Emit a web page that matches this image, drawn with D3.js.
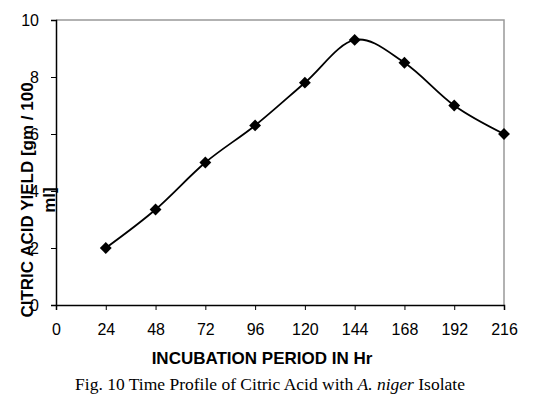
<!DOCTYPE html>
<html>
<head>
<meta charset="utf-8">
<script src="https://cdn.jsdelivr.net/npm/d3@7"></script>
<style>
  body { margin: 0; background: #fff; }
  svg { display: block; }
  .tick text { font-family: Arial, 'Liberation Sans', sans-serif; font-size: 16px; fill: #000; }
</style>
</head>
<body>
<svg id="chart" width="559" height="399"></svg>
<script>
// Incubation time (hours) and citric acid yield (gm / 100 ml)
const hours = [24, 48, 72, 96, 120, 144, 168, 192, 216];
const yieldValues = [2.0, 3.35, 5.0, 6.3, 7.8, 9.3, 8.5, 7.0, 6.0];
const xTicks = [0, 24, 48, 72, 96, 120, 144, 168, 192, 216];
const yTicks = [0, 2, 4, 6, 8, 10];

const svg = d3.select('#chart');
const plot = { left: 56, right: 504, top: 20, bottom: 305 };

const x = d3.scaleLinear().domain([0, 216]).range([plot.left, plot.right]);
const y = d3.scaleLinear().domain([0, 10]).range([plot.bottom, plot.top]);

// Plot area border (top/right grey)
svg.append('path')
    .attr('d', `M${plot.left},${plot.top}H${plot.right}V${plot.bottom}`)
    .attr('fill', 'none')
    .attr('stroke', '#999')
    .attr('stroke-width', 1.5);

// Axes
const xAxis = svg.append('g')
    .attr('transform', `translate(0,${plot.bottom})`)
    .call(d3.axisBottom(x).tickValues(xTicks).tickSize(5).tickPadding(14));
const yAxis = svg.append('g')
    .attr('transform', `translate(${plot.left},0)`)
    .call(d3.axisLeft(y).tickValues(yTicks).tickSize(5).tickPadding(12));

[xAxis, yAxis].forEach(a => {
    a.select('.domain').attr('stroke', '#000').attr('stroke-width', 1.5);
    a.selectAll('.tick line').attr('stroke', '#000');
});

// Smoothed line
const line = d3.line()
    .x((d, i) => x(hours[i]))
    .y(d => y(d))
    .curve(d3.curveCatmullRom.alpha(0));

svg.append('path')
    .datum(yieldValues)
    .attr('d', line)
    .attr('fill', 'none')
    .attr('stroke', '#000')
    .attr('stroke-width', 1.8);

// Diamond markers
const diamond = d3.symbol().type(d3.symbolSquare).size(70);
svg.append('g').selectAll('path')
    .data(yieldValues)
    .enter().append('path')
    .attr('d', diamond)
    .attr('transform', (d, i) => `translate(${x(hours[i])},${y(d)}) rotate(45)`)
    .attr('fill', '#000');

// Axis titles
svg.append('text')
    .attr('x', (plot.left + plot.right) / 2 - 18)
    .attr('y', 364)
    .attr('text-anchor', 'middle')
    .style('font-family', "Arial, 'Liberation Sans', sans-serif")
    .style('font-weight', 'bold')
    .style('font-size', '17px')
    .text('INCUBATION PERIOD IN Hr');

const yTitle = svg.append('text')
    .attr('transform', 'translate(33,200) rotate(-90)')
    .attr('text-anchor', 'middle')
    .style('font-family', "Arial, 'Liberation Sans', sans-serif")
    .style('font-weight', 'bold')
    .style('font-size', '17px');
yTitle.append('tspan').attr('x', 0).attr('y', 0).text('CITRIC ACID YIELD [gm / 100');
yTitle.append('tspan').attr('x', 0).attr('y', 22).text('ml]');

// Caption
const caption = svg.append('text')
    .attr('x', 270)
    .attr('y', 390)
    .attr('text-anchor', 'middle')
    .style('font-family', "'Times New Roman', 'Liberation Serif', serif")
    .style('font-size', '17.5px');
caption.append('tspan').text('Fig. 10 Time Profile of Citric Acid with ');
caption.append('tspan').style('font-style', 'italic').text('A. niger');
caption.append('tspan').text(' Isolate');
</script>
</body>
</html>
